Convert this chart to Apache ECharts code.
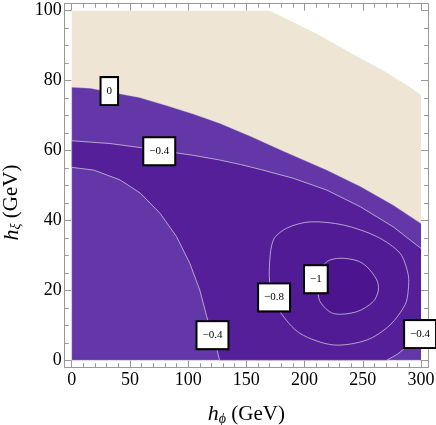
<!DOCTYPE html>
<html>
<head>
<meta charset="utf-8">
<script src="https://cdn.jsdelivr.net/npm/echarts@6.0.0/dist/echarts.min.js"></script>
<style>
  html, body { margin: 0; padding: 0; background: #fff; }
  #chart { width: 436px; height: 425px; }
</style>
</head>
<body>
<div id="chart"></div>
<script>
// tick positions
const xMajor = [0, 50, 100, 150, 200, 250, 300];
const xMinor = [10, 20, 30, 40, 60, 70, 80, 90, 110, 120, 130, 140, 160, 170, 180, 190,
                210, 220, 230, 240, 260, 270, 280, 290];
const yMajor = [0, 20, 40, 60, 80, 100];
const yMinor = [5, 10, 15, 25, 30, 35, 45, 50, 55, 65, 70, 75, 85, 90, 95];

// region where the function is defined (h_phi, h_xi)
const domain = [[0, 0], [0, 100], [170, 100], [189, 96.9], [212, 93.1], [240, 87.8],
                [269, 82.6], [292, 77.8], [300, 75.8], [300, 0]];
const domainEdge = [[0, 100], [0, 0], [300, 0]];

// contour 0
const level0 = [[0, 78.1], [16, 77.8], [35, 76.6], [58, 75.2], [82, 72.8], [105, 70.4],
                [127, 67.8], [154, 64.0], [180, 60.1], [219, 54.4], [248, 49.7],
                [276, 44.4], [300, 39.1]];

// contour -0.4, upper branch
const level04Top = [[0, 62.8], [33, 62.0], [60, 60.8], [82, 59.7], [105, 58.6], [127, 57.3],
                    [145, 56.0], [162, 54.6], [190, 52.1], [219, 48.7], [248, 43.9],
                    [276, 38.2], [300, 32.0]];
// contour -0.4, lower left branch
const level04Left = [[0, 55.2], [19, 54.4], [41.5, 51.6], [59, 47.8], [76, 42.0], [90, 35.4],
                     [101.5, 27.7], [110, 20.1], [116, 12.5], [121, 7.0], [124.5, 3.4], [127, 0]];
// contour -0.4, lower right branch
const level04Right = [[270.5, 0], [280, 1.8], [287.7, 3.9], [294, 5.5], [300, 7.0]];

// contour -0.8 (closed)
const level08 = [[169.7, 25.8], [173.2, 34.4], [184.7, 37.8], [204.7, 39.6], [233.3, 38.7],
                 [262, 35.4], [282, 30.6], [289, 24.5], [289, 20], [286.5, 16.0], [273.4, 10.1],
                 [253.4, 5.8], [224.7, 4.4], [196.1, 7.7], [178.9, 13.9], [171.5, 19.5]];
// contour -1 (closed)
const level1 = [[211.5, 21], [213.3, 24.9], [219, 28.2], [230.4, 29.2], [245, 28.5],
                [253.4, 26.8], [262, 23], [263.4, 20.1], [259, 16.8], [244.8, 13.9],
                [224.7, 13.4], [213.3, 16.8]];

// contour labels: x, y, text
const contourLabels = [[32.3, 77.0, '0'], [75.2, 59.8, '−0.4'], [173.8, 18.0, '−0.8'],
                       [209.7, 23.2, '−1'], [120.9, 7.2, '−0.4'], [299.2, 7.5, '−0.4']];

const serif = '"Liberation Serif", "DejaVu Serif", serif';
const frameColor = '#999';
const lineColor = 'rgba(200,196,212,0.8)';

// band between the two -0.4 branches
const darkBand = level04Top
  .concat(level04Right.slice().reverse())
  .concat(level04Left.slice().reverse());

function fillSeries(pts, color, smooth) {
  return {
    type: 'custom',
    silent: true,
    data: pts,
    renderItem: function (params, api) {
      if (params.dataIndex !== 0) return;
      return {
        type: 'polygon',
        shape: { points: pts.map(p => api.coord(p)), smooth: smooth || 0 },
        style: { fill: color }
      };
    }
  };
}

function lineSeries(pts, closed, smooth, color) {
  return {
    type: 'custom',
    silent: true,
    data: pts,
    renderItem: function (params, api) {
      if (params.dataIndex !== 0) return;
      return {
        type: closed ? 'polygon' : 'polyline',
        shape: { points: pts.map(p => api.coord(p)), smooth: smooth || 0 },
        style: { fill: 'none', stroke: color || lineColor, lineWidth: 1 }
      };
    }
  };
}

function xAxis(pos, ticks, len, withLabels, withLine) {
  return {
    type: 'value', position: pos, min: -6, max: 306,
    axisLine: { show: withLine, onZero: false, lineStyle: { color: frameColor, width: 1 } },
    axisTick: { show: true, inside: true, length: len, customValues: ticks,
                lineStyle: { color: frameColor } },
    axisLabel: { show: withLabels, customValues: ticks, color: '#000',
                 fontFamily: serif, fontSize: 18, margin: 4 },
    splitLine: { show: false }
  };
}

function yAxis(pos, ticks, len, withLabels, withLine) {
  return {
    type: 'value', position: pos, min: -2, max: 102,
    axisLine: { show: withLine, onZero: false, lineStyle: { color: frameColor, width: 1 } },
    axisTick: { show: true, inside: true, length: len, customValues: ticks,
                lineStyle: { color: frameColor } },
    axisLabel: { show: withLabels, customValues: ticks, color: '#000',
                 fontFamily: serif, fontSize: 18, margin: 3 },
    splitLine: { show: false }
  };
}

const chart = echarts.init(document.getElementById('chart'));

const titleRich = {
  i: { fontFamily: serif, fontSize: 22, fontStyle: 'italic', color: '#000' },
  s: { fontFamily: serif, fontSize: 14, fontStyle: 'italic', color: '#000', padding: [10, 0, 0, 0] },
  n: { fontFamily: serif, fontSize: 21, color: '#000' }
};

const xMain = xAxis('bottom', xMajor, 7, true, true);
xMain.name = '{i|h}{s|ϕ}{n| (GeV)}';
xMain.nameLocation = 'middle';
xMain.nameGap = 35;
xMain.nameTextStyle = { rich: titleRich };

const yMain = yAxis('left', yMajor, 7, true, true);
yMain.name = '{i|h}{s|ξ}{n| (GeV)}';
yMain.nameLocation = 'middle';
yMain.nameRotate = 90;
yMain.nameGap = 35;
yMain.nameTextStyle = { rich: titleRich, padding: [0, 34, 0, 0] };

const option = {
  animation: false,
  backgroundColor: '#fff',
  grid: { left: 64.7, right: 8, top: 3.7, bottom: 57.7, containLabel: false, outerBoundsMode: 'none' },
  xAxis: [
    xMain,
    xAxis('bottom', xMinor, 4, false, false),
    xAxis('top', xMajor, 7, false, true),
    xAxis('top', xMinor, 4, false, false)
  ],
  yAxis: [
    yMain,
    yAxis('left', yMinor, 4, false, false),
    yAxis('right', yMajor, 7, false, true),
    yAxis('right', yMinor, 4, false, false)
  ],
  series: [
    fillSeries(domain, '#efe5d5'),
    fillSeries([[0, 0]].concat(level0, [[300, 0]]), '#6437a8'),
    fillSeries(darkBand, '#561f9a'),
    fillSeries(level08, '#511b95', 0.3),
    fillSeries(level1, '#4c158f', 0.3),
    lineSeries(domainEdge, false, 0, 'rgba(255,255,255,0.35)'),
    lineSeries(level0, false, 0, 'rgba(200,196,212,0.35)'),
    lineSeries(level04Top, false),
    lineSeries(level04Left, false),
    lineSeries(level04Right, false),
    lineSeries(level08, true, 0.3),
    lineSeries(level1, true, 0.3),
    {
      type: 'scatter',
      data: contourLabels,
      symbolSize: 0,
      silent: true,
      z: 10,
      itemStyle: { opacity: 1 },
      label: {
        show: true,
        position: 'inside',
        formatter: p => p.data[2],
        fontFamily: serif,
        fontSize: 11,
        lineHeight: 12,
        color: '#000',
        backgroundColor: '#fff',
        borderColor: '#000',
        borderWidth: 2,
        padding: [7, 5]
      }
    }
  ]
};

chart.setOption(option);
</script>
</body>
</html>
